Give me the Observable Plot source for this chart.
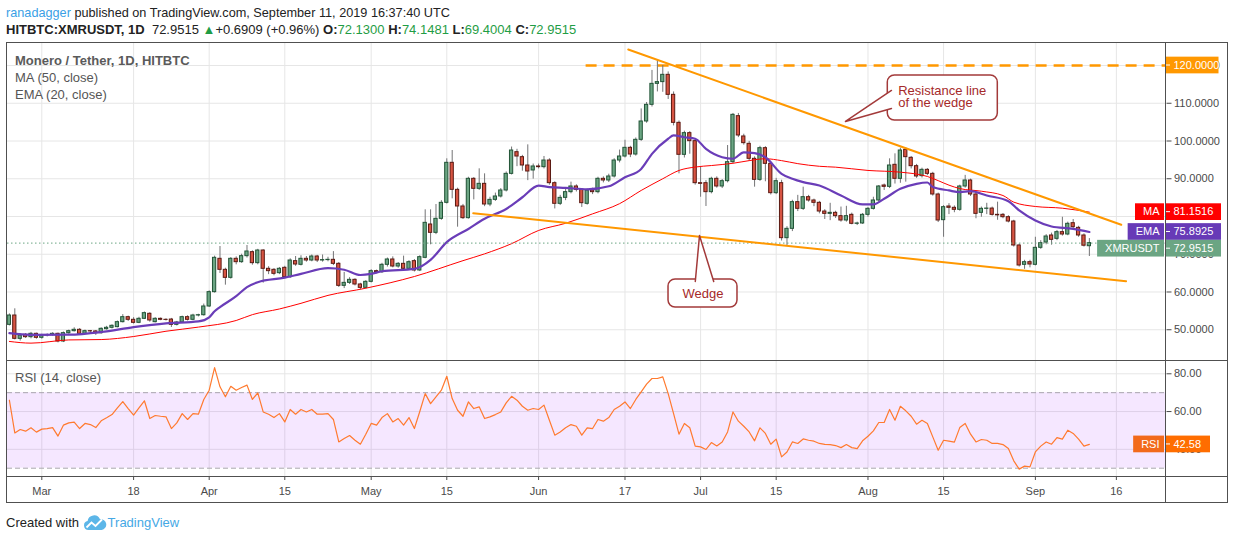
<!DOCTYPE html>
<html>
<head>
<meta charset="utf-8">
<script src="https://cdn.jsdelivr.net/npm/d3@7"></script>
<script src="https://cdn.jsdelivr.net/npm/@observablehq/plot@0.6"></script>
<style>
  html,body{margin:0;padding:0;background:#fff;}
  body{width:1234px;height:540px;position:relative;overflow:hidden;font-family:"Liberation Sans",Arial,sans-serif;color:#222;}
  .abs{position:absolute;white-space:nowrap;}
  .hdr{left:6px;font-size:13px;line-height:16px;}
  .g{color:#1f9d45;}
  .leg{left:15px;font-size:13px;line-height:16px;color:#555;}
  .sep{position:absolute;background:#505050;}
  svg.plot{position:absolute;left:0;}
</style>
</head>
<body>
<div class="abs hdr" style="top:5px;font-size:12.7px"><span style="color:#3a9fe6">ranadagger</span> published on TradingView.com, September 11, 2019 16:37:40 UTC</div>
<div class="abs hdr" id="ohlc" style="top:22px"></div>
<div id="charts"></div>
<script>
// ---------------- DATA ----------------
const symbolTitle = "Monero / Tether, 1D, HITBTC";
const headerSymbol = "HITBTC:XMRUSDT, 1D";
const firstCandle = "2019-02-23";
const lastCandle = "2019-09-11";
const change = 0.6909, changePct = 0.96;

const opens = [
51.30,53.77,47.59,48.65,48.03,48.92,47.86,48.48,48.60,48.92,
46.89,49.09,49.62,49.98,48.92,49.62,49.55,49.09,50.15,50.51,
50.69,52.01,53.33,52.63,51.83,52.89,54.22,52.01,52.89,52.63,
52.70,51.30,51.92,53.33,52.63,53.77,53.85,56.16,59.96,68.79,
65.87,63.75,68.79,67.90,69.49,70.55,67.64,70.99,66.14,65.87,
64.99,66.40,63.93,68.17,67.20,68.79,68.34,69.40,68.34,68.45,
68.52,67.46,61.63,62.42,63.22,61.99,61.10,62.69,65.52,65.25,
67.20,68.61,66.75,67.46,66.14,68.17,65.70,69.05,77.88,75.67,
79.38,83.62,94.22,87.06,82.65,79.56,89.98,87.33,88.65,83.18,
84.41,85.30,86.89,91.30,97.04,95.72,93.51,92.19,93.25,93.07,
94.83,88.83,83.36,84.94,86.45,87.95,87.06,83.36,86.89,86.45,
89.98,89.54,90.60,94.83,95.89,98.19,96.42,100.31,105.17,109.58,
115.14,115.60,117.53,112.23,104.81,96.34,102.08,99.96,88.83,88.83,
86.45,89.98,87.95,89.36,94.39,106.58,101.20,99.25,95.28,89.71,
98.10,93.95,86.18,88.83,74.26,76.73,83.80,82.03,85.12,84.24,
83.62,81.32,80.70,80.97,80.09,78.94,80.44,78.06,78.15,80.44,
82.03,84.24,88.21,87.86,93.69,89.98,97.66,95.54,93.33,90.69,
92.36,91.30,85.83,79.03,82.65,82.30,81.77,87.95,89.54,85.83,
80.97,82.03,82.10,80.44,80.44,79.82,78.67,72.32,67.20,67.90,
67.20,71.70,73.10,74.97,74.08,75.85,75.23,78.23,76.99,74.97,
72.13];
const highs = [
54.20,55.54,48.90,49.00,49.30,49.10,48.80,48.90,49.20,49.10,
49.40,49.90,50.51,50.30,49.90,49.80,49.80,50.50,50.90,51.30,
52.30,54.00,53.60,53.20,53.30,54.70,54.50,53.20,53.10,52.90,
53.00,52.20,53.60,53.70,54.10,54.10,56.80,60.30,69.50,72.05,
66.30,69.10,69.30,70.00,72.32,70.90,71.30,71.20,66.70,66.20,
66.50,66.80,68.80,69.40,69.60,69.40,69.80,69.70,69.80,69.20,
70.70,67.80,65.20,63.80,63.50,62.30,63.00,65.90,65.80,67.60,
69.00,69.30,67.80,69.50,68.30,68.60,69.60,81.77,81.77,83.17,
84.20,95.28,97.48,87.50,83.20,90.40,90.30,92.63,91.30,85.10,
86.20,87.40,91.80,98.40,97.80,96.20,98.98,93.90,93.90,95.90,
95.30,89.20,85.60,87.20,89.10,88.40,87.40,87.30,87.50,90.40,
90.50,91.20,95.30,97.60,100.20,98.60,100.80,108.50,110.20,118.70,
121.30,120.00,118.30,113.00,105.30,102.60,102.50,100.40,93.00,89.50,
90.40,90.50,89.80,98.80,107.30,107.30,101.80,99.90,95.80,98.60,
98.50,94.40,90.10,89.60,77.30,84.30,85.60,87.77,85.60,84.60,
84.00,81.80,83.50,81.40,82.50,82.70,80.90,78.50,80.80,82.40,
85.10,88.20,88.60,95.28,96.60,98.10,98.20,95.90,93.80,92.80,
92.70,91.70,86.20,82.90,83.40,82.80,88.30,90.90,89.90,86.20,
82.50,83.50,82.50,83.80,80.80,80.20,79.00,72.70,68.40,68.40,
74.50,73.60,75.20,75.60,76.30,79.80,78.50,79.20,77.40,75.40,
74.1481];
const lows = [
51.00,47.30,47.00,47.70,47.60,47.50,47.50,48.10,48.30,46.53,
46.60,48.80,49.40,48.60,48.70,49.30,48.50,48.80,49.90,50.20,
50.50,51.80,52.20,51.50,51.60,52.70,52.00,51.80,52.40,52.30,
50.60,51.00,51.70,52.30,52.40,53.40,53.60,55.90,59.70,64.90,
61.81,63.40,67.20,67.60,69.00,67.10,67.20,62.34,64.60,64.30,
64.60,63.50,63.60,66.80,66.90,67.90,68.00,67.80,67.90,68.00,
67.00,61.20,60.90,62.00,61.60,60.60,60.80,62.40,64.80,64.90,
66.60,66.40,66.30,65.80,65.80,65.30,65.40,68.80,72.50,75.20,
79.00,83.30,84.68,77.17,79.20,79.30,84.40,86.90,82.60,82.60,
84.00,84.90,86.50,91.00,93.20,92.00,89.50,89.90,92.60,92.60,
88.30,82.00,82.90,84.20,86.00,86.50,82.40,83.00,85.80,86.00,
88.90,89.00,90.20,94.20,95.50,95.60,96.00,99.90,104.70,109.00,
113.00,112.90,111.00,104.00,91.30,95.50,96.50,88.30,85.10,82.65,
86.00,87.50,87.40,88.90,94.00,100.90,98.90,94.60,87.77,89.30,
89.20,85.70,85.80,73.50,72.30,76.00,81.30,81.60,83.80,82.60,
80.70,79.20,78.90,79.50,78.50,78.50,77.80,77.60,77.90,79.80,
81.70,83.80,86.90,87.40,88.60,88.80,89.10,92.60,90.10,90.20,
90.80,85.40,78.40,74.50,80.50,81.00,81.40,87.50,85.30,79.40,
79.80,80.50,80.10,79.00,79.40,78.30,71.90,66.60,66.00,66.40,
66.90,71.30,72.50,72.40,73.60,74.80,74.90,76.80,74.50,71.90,
69.4004];
const closes = [
53.77,47.59,48.48,48.03,48.92,47.86,48.48,48.60,48.92,46.89,
49.09,49.62,49.98,48.92,49.62,49.55,49.09,50.24,50.51,51.04,
52.01,53.33,52.63,51.83,52.89,54.39,52.45,52.89,52.63,52.60,
51.30,51.92,53.33,52.63,53.77,53.85,56.16,59.96,69.05,65.87,
63.75,68.79,67.90,69.49,70.73,67.64,70.99,66.14,65.52,64.81,
66.14,63.93,68.34,67.28,68.79,68.34,69.40,68.34,68.45,68.52,
67.46,61.63,62.42,63.22,61.99,61.10,62.69,65.52,65.25,67.20,
68.61,66.75,67.46,66.14,67.90,65.70,69.23,78.32,75.67,79.38,
83.62,94.22,87.06,82.65,79.56,89.98,87.33,88.65,83.18,84.41,
85.30,86.89,91.30,97.48,95.89,93.51,91.92,93.25,93.07,94.83,
88.83,83.36,84.94,86.45,87.95,87.06,83.53,86.89,86.45,89.98,
89.54,90.60,94.83,95.89,98.19,96.42,100.31,105.17,109.58,115.14,
115.60,117.53,112.23,104.81,96.34,102.08,99.96,88.83,88.65,86.45,
89.98,87.95,89.36,94.39,106.93,101.46,99.43,95.28,89.71,98.10,
93.95,86.18,89.36,74.26,76.73,83.80,82.03,85.12,84.24,83.62,
81.32,80.70,80.97,80.09,78.94,80.09,78.06,78.15,80.44,82.03,
84.24,87.95,87.86,93.51,89.98,97.48,95.72,93.33,90.60,92.36,
91.30,85.83,78.94,82.47,82.30,81.77,87.95,89.54,85.83,80.70,
82.03,82.10,80.44,80.30,79.82,78.67,72.32,67.02,67.90,67.28,
71.70,72.94,74.70,73.82,75.85,75.23,78.06,77.17,74.97,72.26,
72.9515];
const rsiValues = [
66.0,48.7,50.5,49.6,51.4,49.1,50.7,51.0,51.5,47.0,
52.8,54.0,54.4,51.0,53.7,53.1,51.5,55.1,56.7,58.4,
61.9,65.3,61.6,58.1,61.9,65.7,56.3,57.9,57.5,57.2,
51.0,54.0,58.9,55.8,58.9,58.6,66.4,71.3,83.3,73.1,
67.8,73.4,71.3,72.7,74.0,66.4,69.9,59.8,58.6,56.8,
58.9,54.5,61.1,58.6,61.1,59.8,61.1,58.6,58.6,58.9,
55.8,43.9,45.7,47.3,44.8,42.7,48.0,53.7,52.8,56.8,
58.9,54.5,56.3,52.8,56.8,51.0,60.0,69.5,64.2,67.8,
71.3,78.7,66.9,60.7,57.5,65.1,61.6,62.5,56.3,57.2,
58.4,59.8,64.6,68.1,66.0,62.8,60.7,61.6,61.1,63.4,
55.4,47.5,49.2,51.4,53.1,52.2,47.5,51.4,51.0,55.8,
54.9,56.8,61.1,62.8,65.1,61.6,66.4,70.4,74.5,77.5,
77.5,78.4,69.5,58.9,48.0,53.7,51.4,41.7,41.3,39.9,
43.6,41.8,43.9,49.2,59.8,54.9,52.2,49.2,44.5,51.4,
48.4,42.7,45.4,36.0,38.6,43.9,43.1,45.5,44.8,44.3,
43.1,42.6,42.5,42.0,40.9,42.5,40.9,40.4,44.5,46.9,
49.8,54.2,54.2,61.1,55.4,62.8,60.4,57.5,53.3,55.4,
53.7,46.6,39.5,44.8,44.3,43.8,51.5,53.7,48.0,43.9,
45.2,44.8,43.1,43.1,42.5,40.4,33.9,29.5,31.1,30.7,
38.6,41.7,43.9,42.7,46.2,45.4,50.1,48.4,45.4,41.7,
42.58];

// 50-day MA (close)
const maDates = ["2019-02-23","2019-02-27","2019-03-06","2019-03-12","2019-03-18","2019-03-24","2019-03-30","2019-04-06","2019-04-09","2019-04-14",
"2019-04-18","2019-04-23","2019-04-30","2019-05-09","2019-05-18","2019-05-22","2019-05-27","2019-06-01","2019-06-06","2019-06-11",
"2019-06-16","2019-06-20","2019-06-24","2019-06-27","2019-06-30","2019-07-03","2019-07-07","2019-07-10","2019-07-13","2019-07-16",
"2019-07-19","2019-07-23","2019-07-26","2019-08-01","2019-08-07","2019-08-12","2019-08-14","2019-08-16","2019-08-18","2019-08-22",
"2019-08-26","2019-08-28","2019-09-01","2019-09-06","2019-09-11"];
const maValues = [46.9,46.45,47.3,47.4,48.2,49.6,50.7,52.45,54.0,55.5,
57.0,59.1,61.0,64.1,68.3,70.1,72.8,76.3,78.2,80.7,
83.4,86.9,90.0,92.2,93.1,93.5,94.1,94.8,95.3,94.8,
94.0,93.3,93.07,92.2,91.74,90.6,89.5,88.3,87.4,86.7,
85.56,83.8,82.65,82.2,81.1516];
// 20-day EMA (close)
const emaDates = ["2019-02-23","2019-02-27","2019-03-06","2019-03-12","2019-03-18","2019-03-24","2019-03-30","2019-04-01","2019-04-02","2019-04-03",
"2019-04-06","2019-04-08","2019-04-10","2019-04-15","2019-04-18","2019-04-23","2019-04-26","2019-04-29","2019-05-01","2019-05-03",
"2019-05-09","2019-05-12","2019-05-15","2019-05-19","2019-05-22","2019-05-26","2019-05-29","2019-06-01","2019-06-03","2019-06-06",
"2019-06-10","2019-06-14","2019-06-17","2019-06-20","2019-06-22","2019-06-25","2019-06-26","2019-06-28","2019-06-30","2019-07-02",
"2019-07-05","2019-07-07","2019-07-09","2019-07-11","2019-07-13","2019-07-16","2019-07-18","2019-07-20","2019-07-23","2019-07-27",
"2019-07-31","2019-08-02","2019-08-04","2019-08-07","2019-08-10","2019-08-12","2019-08-13","2019-08-16","2019-08-18","2019-08-20",
"2019-08-23","2019-08-27","2019-08-29","2019-09-01","2019-09-04","2019-09-08","2019-09-11"];
const emaValues = [49.1,48.65,48.7,49.4,50.7,51.7,52.2,53.3,54.9,56.0,
58.9,61.3,62.6,63.8,64.8,66.3,65.9,64.5,64.8,65.5,
66.1,68.5,73.2,76.7,79.4,82.0,85.1,88.2,87.8,87.6,
87.2,88.0,90.4,92.6,96.6,100.6,101.5,101.0,100.6,97.9,
95.7,95.3,97.0,96.8,95.7,91.3,90.0,89.1,88.2,85.56,
83.2,83.2,84.7,87.33,88.65,89.0,87.8,86.9,86.45,86.7,
85.56,84.06,81.6,78.94,77.35,76.73,75.8925];

// time axis
const tickDates = ["2019-03-01","2019-03-18","2019-04-01","2019-04-15","2019-05-01","2019-05-15","2019-06-01","2019-06-17","2019-07-01","2019-07-15","2019-08-01","2019-08-15","2019-09-01","2019-09-16"];
const tickLabels = ["Mar","18","Apr","15","May","15","Jun","17","Jul","15","Aug","15","Sep","16"];
const priceTicks = [50,60,70,80,90,100,110,120];
const rsiTicks = [40,60,80];
const rsiBands = [30,70];

// drawings
const resistanceLine = [{date:"2019-06-17T14:24Z", price:124.24},{date:"2019-09-16T21:36Z", price:77.80}];
const supportLine = [{date:"2019-05-19T21:36Z", price:80.88},{date:"2019-09-17T19:12Z", price:62.87}];
const level120 = {from:"2019-06-09T19:12Z", price:120};
const callouts = [
  {text:"Resistance line\nof the wedge", anchor:"start", x1:"2019-08-04T16:05Z", x2:"2019-08-25T01:00Z", y1:117.35, y2:105.43,
   tx:"2019-08-06T14:10Z", ty:111.6,
   tail:[["2019-08-05T08:24Z",113.38],["2019-07-27T20:00Z",105.17],["2019-08-05T08:24Z",108.61]]},
  {text:"Wedge", anchor:"middle", x1:"2019-06-25T01:30Z", x2:"2019-07-07T20:00Z", y1:63.31, y2:55.89,
   tx:"2019-07-01T10:50Z", ty:59.6,
   tail:[["2019-06-30T00:30Z",62.78],["2019-06-30T19:12Z",74.97],["2019-07-03T10:20Z",62.78]]}
];

// view
const viewStart = "2019-02-22T15:33Z", viewEnd = "2019-09-25T04:34Z";
const priceDomain = [41.85, 125.83];
const rsiDomain = [25.6, 87.04];

// ---------------- BUILD ----------------
const FONT = '"Liberation Sans", Arial, sans-serif';
const UP = "#6ba583", UPB = "#225437", DN = "#d75442", DNB = "#5b1a13";
const CALL = "#a33a3a", CALLT = "#a52a2a";
const DAY = 864e5;
const xDomain = [new Date(viewStart), new Date(viewEnd)];
const days = d3.utcDay.range(new Date(firstCandle), d3.utcDay.offset(new Date(lastCandle), 1));
const candles = days.map((date, i) => ({date, open:opens[i], high:highs[i], low:lows[i], close:closes[i], rsi:rsiValues[i]}));
const maData = maDates.map((d,i) => ({date:new Date(d), value:maValues[i]}));
const emaData = emaDates.map((d,i) => ({date:new Date(d), value:emaValues[i]}));
const ticks = tickDates.map(d => new Date(d));
const labelOf = new Map(ticks.map((d,i) => [+d, tickLabels[i]]));
const last = candles[candles.length-1];
const tailPts = callouts.flatMap((c,ci) => c.tail.map(([t,p]) => ({id:ci, date:new Date(t), price:p})));

// header OHLC line
document.getElementById("ohlc").innerHTML =
  `<b>${headerSymbol}</b>&nbsp; ${last.close.toFixed(4)} <span class="g">▲</span>+${change.toFixed(4)} (+${changePct.toFixed(2)}%) ` +
  `<b>O:</b><span class="g">${last.open.toFixed(4)}</span> <b>H:</b><span class="g">${last.high.toFixed(4)}</span> ` +
  `<b>L:</b><span class="g">${last.low.toFixed(4)}</span> <b>C:</b><span class="g">${last.close.toFixed(4)}</span>`;

const baseStyle = {fontFamily:FONT, fontSize:"11px", color:"#4a4a4a", background:"transparent", overflow:"visible"};

const price = Plot.plot({
  width:1234, height:317, marginLeft:7, marginRight:68.5, marginTop:0, marginBottom:0,
  x:{type:"utc", domain:xDomain, axis:null, label:null},
  y:{domain:priceDomain, label:null},
  color:{type:"identity"},
  style:baseStyle,
  marks:[
    Plot.gridX(ticks, {stroke:"#e6e6e6", strokeOpacity:1}),
    Plot.gridY(priceTicks, {stroke:"#e6e6e6", strokeOpacity:1}),
    Plot.ruleY([level120.price], {x1:() => new Date(level120.from), x2:() => xDomain[1], stroke:"#ff9800", strokeWidth:2.5, strokeDasharray:"11,7"}),
    Plot.ruleX(candles, {x:"date", y1:"low", y2:"high", stroke:"#737375", strokeWidth:1, clip:true}),
    Plot.rect(candles, {x1:d => new Date(+d.date - 0.3*DAY), x2:d => new Date(+d.date + 0.3*DAY), y1:"open", y2:"close",
      fill:d => d.close >= d.open ? UP : DN, stroke:d => d.close >= d.open ? UPB : DNB, strokeWidth:1, clip:true}),
    Plot.line(maData, {x:"date", y:"value", stroke:"#ff0000", strokeWidth:1, curve:"monotone-x", clip:true}),
    Plot.line(emaData, {x:"date", y:"value", stroke:"#6a3db8", strokeWidth:2.2, curve:"monotone-x", clip:true}),
    Plot.ruleY([last.close], {stroke:UP, strokeWidth:1, strokeDasharray:"1.5,2.5"}),
    Plot.line(resistanceLine, {x:d => new Date(d.date), y:"price", stroke:"#ff9800", strokeWidth:2, clip:true}),
    Plot.line(supportLine, {x:d => new Date(d.date), y:"price", stroke:"#ff9800", strokeWidth:2, clip:true}),
    Plot.rect(callouts, {x1:d => new Date(d.x1), x2:d => new Date(d.x2), y1:"y1", y2:"y2", fill:"white", stroke:CALL, strokeWidth:1.5, rx:7}),
    Plot.line(tailPts, {x:"date", y:"price", z:"id", stroke:CALL, fill:"white", strokeWidth:1.5}),
    Plot.text(callouts.filter(d => d.anchor === "start"), {x:d => new Date(d.tx), y:"ty", text:"text", textAnchor:"start", lineAnchor:"middle", lineHeight:0.93, fontSize:13, fill:CALLT}),
    Plot.text(callouts.filter(d => d.anchor === "middle"), {x:d => new Date(d.tx), y:"ty", text:"text", textAnchor:"middle", lineAnchor:"middle", fontSize:13, fill:CALLT}),
    Plot.axisY(priceTicks, {anchor:"right", tickSize:5, tickPadding:3, tickFormat:d => d.toFixed(4), label:null})
  ]
});
price.classList.add("plot");
price.style.top = "43px";

const rsiPlot = Plot.plot({
  width:1234, height:143, marginLeft:7, marginRight:68.5, marginTop:0, marginBottom:27,
  x:{type:"utc", domain:xDomain, label:null},
  y:{domain:rsiDomain, label:null},
  style:baseStyle,
  marks:[
    Plot.gridX(ticks, {stroke:"#e6e6e6", strokeOpacity:1}),
    Plot.gridY(rsiTicks, {stroke:"#e6e6e6", strokeOpacity:1}),
    Plot.rect([rsiBands], {y1:d => d[0], y2:d => d[1], fill:"#9915ff", fillOpacity:0.1}),
    Plot.ruleY(rsiBands, {stroke:"#a9a5ad", strokeWidth:1, strokeDasharray:"5,3"}),
    Plot.line(candles, {x:"date", y:"rsi", stroke:"#ff7a2f", strokeWidth:1.2}),
    Plot.axisY(rsiTicks, {anchor:"right", tickSize:5, tickPadding:3, tickFormat:d => d.toFixed(2), label:null}),
    Plot.axisX(ticks, {tickSize:4, tickPadding:7, tickFormat:d => labelOf.get(+d), label:null})
  ]
});
rsiPlot.classList.add("plot");
rsiPlot.style.top = "360px";

const charts = document.getElementById("charts");
charts.append(price, rsiPlot);

// right-hand value labels (y from the plot scales)
function valueLabel(svgEl, yc, name, valueText, nameFill, valueFill, valueWidth) {
  const g = d3.select(svgEl).append("g").attr("font-family", FONT).attr("font-size", 11).attr("text-anchor", "start");
  const h = 16.7, top = yc - h/2;
  if (name) {
    const r = g.append("rect").attr("y", top).attr("height", h).attr("fill", nameFill);
    const t = g.append("text").attr("x", 1159.5).attr("y", yc).attr("dy", "0.35em").attr("text-anchor", "end").attr("fill", "#fff").text(name);
    const w = t.node().getComputedTextLength();
    r.attr("x", 1159.5 - w - 8).attr("width", w + 12.5);
  }
  g.append("rect").attr("x", 1165.5).attr("y", top).attr("width", valueWidth).attr("height", h).attr("fill", valueFill);
  g.append("line").attr("x1", 1165.5).attr("x2", 1170).attr("y1", yc).attr("y2", yc).attr("stroke", "#fff");
  g.append("text").attr("x", 1173.5).attr("y", yc).attr("dy", "0.35em").attr("text-anchor", "start").attr("fill", "#fff").text(valueText);
}
const py = price.scale("y");
valueLabel(price, py.apply(level120.price), null, level120.price.toFixed(4), null, "#ff9800", 53);
const stack = [
  {name:"MA", value:maValues[maValues.length-1], fill:"#ff0000"},
  {name:"EMA", value:emaValues[emaValues.length-1], fill:"#673ab7"},
  {name:"XMRUSDT", value:last.close, fill:UP}
].map(d => ({...d, y:py.apply(d.value)})).sort((a,b) => a.y - b.y);
let prevBottom = -Infinity;
for (const d of stack) {
  let yc = d.y;
  if (yc - 8.35 < prevBottom) yc = prevBottom + 8.35;
  prevBottom = yc + 8.35;
  valueLabel(price, yc, d.name, d.value.toFixed(4), d.fill, d.fill, 55.5);
}
const ry = rsiPlot.scale("y");
valueLabel(rsiPlot, ry.apply(last.rsi), "RSI", last.rsi.toFixed(2), "#f26a1b", "#ff6d00", 44.5);

// legends and frame
function div(cls, style, html) {
  const e = document.createElement("div"); e.className = cls; e.setAttribute("style", style); if (html != null) e.innerHTML = html; charts.append(e); return e;
}
div("abs leg", "top:53px;font-weight:bold;color:#5a5a5a", symbolTitle);
div("abs leg", "top:70px", "MA (50, close)");
div("abs leg", "top:87px", "EMA (20, close)");
div("abs leg", "top:370px", "RSI (14, close)");
div("sep", "left:6px;top:42px;width:1222px;height:1px");
div("sep", "left:6px;top:502px;width:1222px;height:1px");
div("sep", "left:6px;top:42px;width:1px;height:461px");
div("sep", "left:1227px;top:42px;width:1px;height:461px");
div("sep", "left:1165px;top:43px;width:1px;height:459px");
div("sep", "left:7px;top:360px;width:1220px;height:1px");
div("sep", "left:7px;top:476px;width:1220px;height:1px");
div("abs", "left:6px;top:514px;font-size:13px;line-height:17px;color:#222;display:flex;align-items:center",
  'Created with&nbsp;<svg width="24" height="16" viewBox="0 0 24 16" style="margin-right:1px"><path d="M5.5 15 A4.5 4.5 0 0 1 4.6 6.1 A6.5 6.5 0 0 1 17 4.2 A5.4 5.4 0 0 1 18.6 15 Z" fill="#5cb6e8"/><polyline points="3.5,12.5 8.5,7.5 12.5,11 19,4.5" fill="none" stroke="#fff" stroke-width="1.8"/></svg><span style="color:#45a8e5">TradingView</span>');
</script>
</body>
</html>
